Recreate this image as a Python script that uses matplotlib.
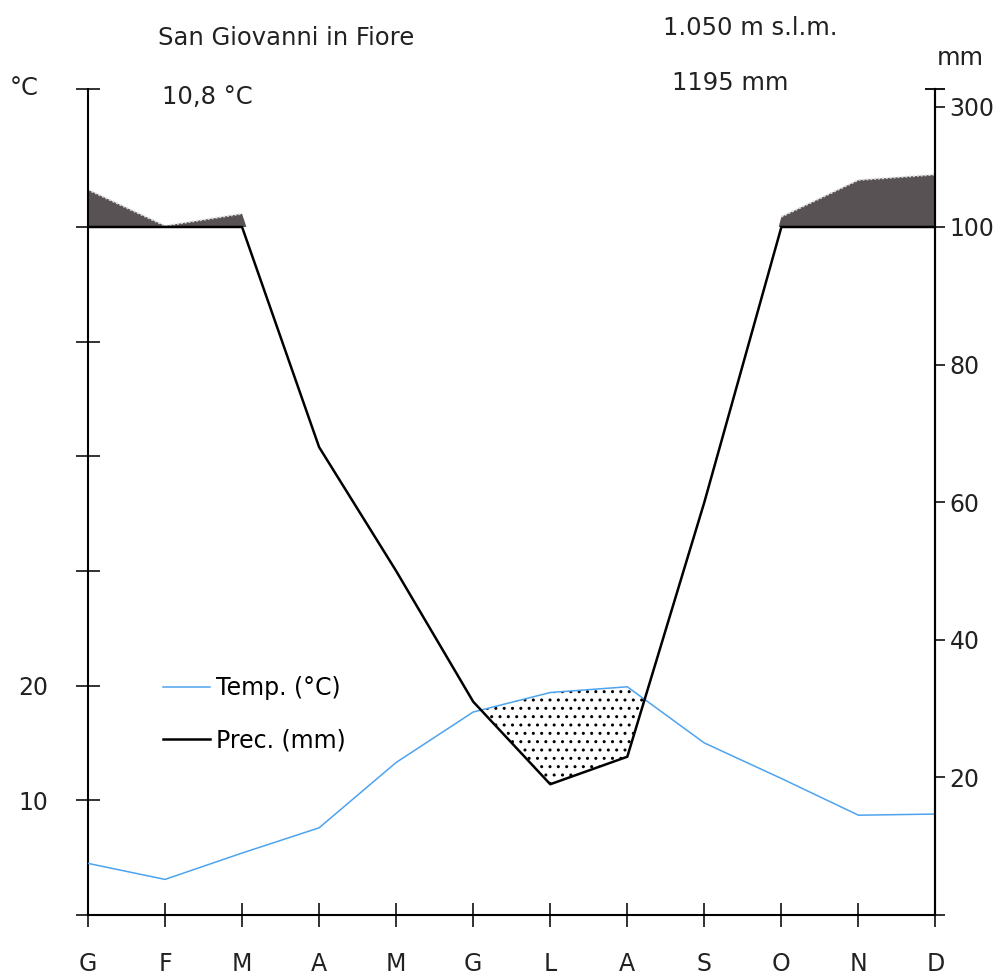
import numpy as np
import matplotlib.pyplot as plt

mesi = ['G', 'F', 'M', 'A', 'M', 'G', 'L', 'A', 'S', 'O', 'N', 'D']
temp = [4.5, 3.1, 5.4, 7.6, 13.3, 17.7, 19.4, 19.9, 15.0, 11.9, 8.7, 8.8]
prec = [162, 102, 122, 68, 50, 31, 19, 23, 60, 117, 178, 187]

stazione = 'San Giovanni in Fiore'
quota = '1.050 m s.l.m.'
t_media = '10,8 °C'
p_totale = '1195 mm'

tick_temp = [0, 10, 20, 30, 40, 50, 60]
lab_temp = ['', '10', '20', '', '', '', '']
tick_prec = [0, 20, 40, 60, 80, 100, 300]


def scala_prec(p):
    # 20 mm = 12 unita' fino a 100 mm, poi scala compressa
    p = np.asarray(p, dtype=float)
    return np.where(p <= 100, p * 0.6, 60 + (p - 100) * 0.0525)


x = np.arange(len(mesi))
yt = np.array(temp)
yp = scala_prec(prec)

fig = plt.figure(figsize=(10.03, 9.77), dpi=100)
ax = fig.add_axes([0.0877, 0.0635, 0.845, 0.845])

# periodo umido (> 100 mm)
ax.fill_between(x, 60, yp, where=yp > 60, interpolate=True,
                color='#595254', linewidth=0, zorder=1)
sopra = np.where(yp >= 60, yp, np.nan)
ax.plot(x, sopra, color='#dddddd', lw=1.4, ls=(0, (1, 1)), zorder=2)

# periodo arido
ax.fill_between(x, yp, yt, where=yt > yp, interpolate=True,
                facecolor='white', edgecolor='k', hatch='..', linewidth=0, zorder=1)

l_t, = ax.plot(x, yt, color='#4da3ee', lw=1.1, zorder=3, label='Temp. (°C)')
l_p, = ax.plot(x, np.minimum(yp, 60), color='k', lw=1.8, zorder=3, label='Prec. (mm)')

ax.set_xlim(0, 11)
ax.set_ylim(0, 72)
ax.spines['top'].set_visible(False)
for s in ['left', 'right', 'bottom']:
    ax.spines[s].set_linewidth(1.5)

ax.set_xticks(x)
ax.set_xticklabels(mesi)
ax.tick_params(axis='x', direction='inout', length=17, width=1.3, pad=18,
               labelsize=17, colors='#222222')
ax.set_yticks(tick_temp)
ax.set_yticklabels(lab_temp)
ax.set_yticks([72], minor=True)
ax.tick_params(axis='y', which='both', direction='inout', length=17, width=1.3,
               pad=20, labelsize=17, colors='#222222')

ax2 = ax.twinx()
ax2.set_ylim(0, 72)
for s in ['top', 'left', 'bottom']:
    ax2.spines[s].set_visible(False)
ax2.spines['right'].set_linewidth(1.5)
ax2.set_yticks(scala_prec(tick_prec))
ax2.set_yticklabels([''] + [str(v) for v in tick_prec[1:]])
ax2.set_yticks([72], minor=True)
ax2.tick_params(axis='y', which='major', direction='out', length=7, width=1.3,
                pad=3, labelsize=17, colors='#222222')
ax2.tick_params(axis='y', which='minor', direction='inout', length=15, width=1.3)

ax.legend(handles=[l_t, l_p], loc='upper left', frameon=False, fontsize=17,
          handlelength=2.0, handletextpad=0.25, labelspacing=1.2, borderpad=0,
          borderaxespad=0,
          bbox_to_anchor=(163 / 1003, 1 - 676 / 977), bbox_transform=fig.transFigure)

kw = dict(fontsize=17.5, va='center', color='#222222')
fig.text(158 / 1003, 1 - 38 / 977, stazione, **kw)
fig.text(10 / 1003, 1 - 88 / 977, '°C', **kw)
fig.text(162 / 1003, 1 - 97 / 977, t_media, **kw)
fig.text(663 / 1003, 1 - 28 / 977, quota, **kw)
fig.text(672 / 1003, 1 - 83 / 977, p_totale, **kw)
fig.text(937 / 1003, 1 - 58 / 977, 'mm', **kw)

fig.savefig('out.png', dpi=100)
